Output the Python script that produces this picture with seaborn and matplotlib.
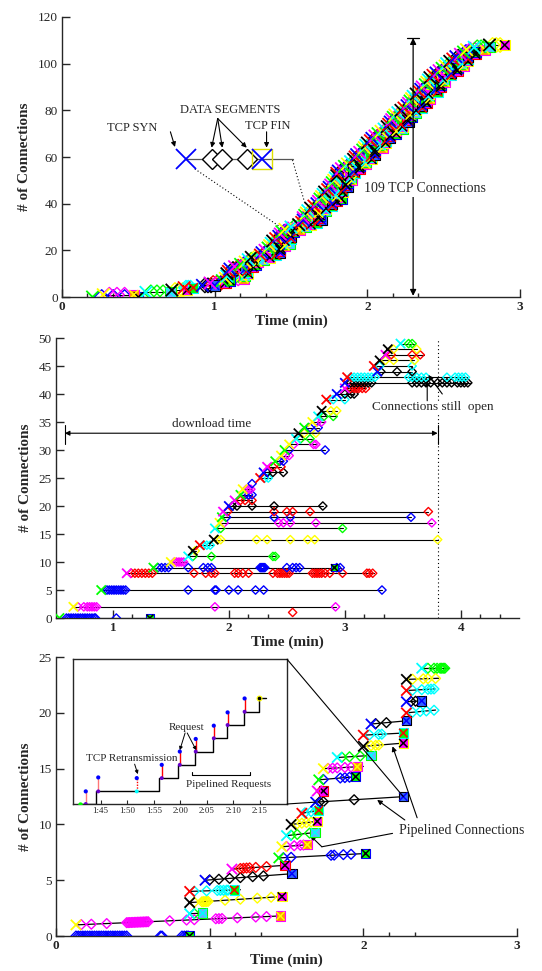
import matplotlib
matplotlib.use("Agg")
import matplotlib.pyplot as plt
from matplotlib.patches import ConnectionPatch
import numpy as np
import pandas as pd
import seaborn as sns

# ---------------- colours (connection colour pairs: SYN cross / data diamonds / FIN square)
G, B, Y, M, R, C, K = "#00ff00", "#0000ff", "#ffff00", "#ff00ff", "#ff0000", "#00ffff", "#000000"
X_COLS = [G, Y, C, K, R, B, M]
D_COLS = [B, M, G, Y, C, K, R]
SQ_COLS = [G, "#ff9900", "#66b3ff", M, G, "#3366ff", M]

# ---------------- panel 1 : 109 TCP connections (start time, duration in min)
p1_start = [0.20, 0.27, 0.55, 0.72, 0.80, 0.92, 0.97, 1.05, 1.07, 1.08,
            1.08, 1.09, 1.10, 1.13, 1.17, 1.20, 1.22, 1.24, 1.30, 1.31,
            1.33, 1.35, 1.36, 1.37, 1.38, 1.40, 1.42, 1.43, 1.44, 1.46,
            1.50, 1.55, 1.57, 1.58, 1.58, 1.59, 1.60, 1.61, 1.63, 1.65,
            1.67, 1.68, 1.69, 1.70, 1.71, 1.72, 1.74, 1.75, 1.76, 1.77,
            1.78, 1.79, 1.80, 1.80, 1.81, 1.83, 1.85, 1.87, 1.89, 1.91,
            1.92, 1.93, 1.95, 1.97, 1.98, 1.99, 2.00, 2.02, 2.03, 2.05,
            2.07, 2.09, 2.11, 2.13, 2.14, 2.15, 2.16, 2.17, 2.18, 2.20,
            2.22, 2.24, 2.26, 2.27, 2.28, 2.29, 2.30, 2.32, 2.34, 2.35,
            2.36, 2.38, 2.39, 2.40, 2.41, 2.43, 2.45, 2.47, 2.49, 2.51,
            2.52, 2.54, 2.56, 2.58, 2.61, 2.63, 2.65, 2.70, 2.80]
p1_dur = [0.30, 0.20, 0.16, 0.10, 0.06, 0.08, 0.10, 0.05, 0.12, 0.12,
          0.14, 0.12, 0.10, 0.12, 0.10, 0.08, 0.10, 0.12, 0.10, 0.12,
          0.10, 0.08, 0.10, 0.12, 0.08, 0.10, 0.08, 0.06, 0.08, 0.10,
          0.10, 0.08, 0.10, 0.12, 0.10, 0.10, 0.08, 0.12, 0.10, 0.12,
          0.10, 0.12, 0.14, 0.10, 0.08, 0.12, 0.10, 0.12, 0.10, 0.10,
          0.12, 0.10, 0.08, 0.12, 0.10, 0.12, 0.10, 0.12, 0.10, 0.12,
          0.10, 0.12, 0.10, 0.08, 0.12, 0.10, 0.12, 0.10, 0.12, 0.10,
          0.12, 0.10, 0.12, 0.10, 0.08, 0.12, 0.10, 0.12, 0.10, 0.12,
          0.10, 0.12, 0.10, 0.12, 0.10, 0.12, 0.10, 0.08, 0.12, 0.10,
          0.12, 0.10, 0.12, 0.10, 0.08, 0.12, 0.10, 0.12, 0.10, 0.12,
          0.10, 0.12, 0.10, 0.08, 0.10, 0.08, 0.12, 0.10, 0.10]
p1_seg_frac = [0.2, 0.45, 0.7]

# ---------------- panel 2 : connections of a slow page download
p2_rows = [0, 1, 2, 5, 8, 9, 10, 11, 12, 13, 14, 16, 17, 18, 19, 20, 21, 22, 23, 24, 25,
           26, 27, 28, 29, 30, 31, 32, 33, 34, 35, 36, 37, 39, 40, 41, 42, 43, 44, 45,
           46, 47, 48, 49]
p2_syn = [0.54, None, 0.66, 0.90, 1.12, 1.35, 1.50, 1.65, 1.69, 1.75, 1.87, 1.88, 1.92, 1.94,
          1.95, 2.00, 2.05, 2.10, 2.12, None, 2.27, 2.30, 2.33, 2.40, 2.45, 2.48, 2.52, 2.58,
          2.60, 2.65, 2.72, 2.77, 2.80, 2.84, 2.93, 3.00, 3.00, 3.02, 3.28, 3.25, 3.30, 3.35,
          3.37, 3.48]
p2_end = [1.32, None, 2.92, 3.32, 3.25, 2.97, 1.63, 2.40, 1.72, 1.86, 3.80, 2.98, 3.75, 3.57,
          3.72, 2.81, 2.20, 2.20, 2.19, None, 2.36, 2.47, 2.45, 2.47, 2.52, 2.83, 2.75, 2.72,
          2.75, 2.78, 2.82, 2.92, 2.93, 3.00, 3.08, 3.18, 4.08, 4.05, 3.58, 3.58, 3.60, 3.68,
          3.62, 3.60]
p2_segs = [
    [0.60, 0.62, 0.64, 0.66, 0.68, 0.70, 0.72, 0.74, 0.76, 0.78, 0.80, 0.82, 0.84, 0.85, 1.03],
    [2.55],
    [0.70, 0.75, 0.78, 0.80, 0.82, 0.84, 0.86, 1.88, 2.92],
    [0.95, 0.97, 0.99, 1.01, 1.03, 1.05, 1.07, 1.09, 1.11, 1.65, 1.88, 1.89, 2.00, 2.08, 2.23, 2.30, 3.32],
    [1.16, 1.19, 1.22, 1.25, 1.28, 1.31, 1.34, 1.70, 1.80, 1.85, 1.88, 2.05, 2.08, 2.12, 2.17, 2.38,
     2.42, 2.44, 2.46, 2.48, 2.50, 2.52, 2.72, 2.74, 2.76, 2.78, 2.80, 2.83, 2.87, 2.98, 3.19, 3.21, 3.24],
    [1.39, 1.42, 1.45, 1.48, 1.65, 1.78, 1.82, 1.85, 2.27, 2.28, 2.29, 2.30, 2.31, 2.50, 2.55, 2.58,
     2.61, 2.93, 2.96],
    [1.53, 1.55, 1.57, 1.59, 1.61],
    [1.69, 1.85, 2.38, 2.40],
    [1.71],
    [1.78, 1.81, 1.84],
    [1.90, 1.93, 2.24, 2.33, 2.53, 2.68, 2.74, 3.80],
    [1.93, 2.98],
    [1.96, 2.43, 2.47, 2.53, 2.75, 3.75],
    [1.98, 2.39, 2.53, 3.57],
    [1.99, 2.39, 2.50, 2.55, 2.70, 3.72],
    [2.03, 2.07, 2.20, 2.39, 2.81],
    [2.10, 2.14, 2.20],
    [2.14, 2.17, 2.20],
    [2.15, 2.17, 2.19],
    [2.20],
    [2.31, 2.34],
    [2.33, 2.38, 2.47],
    [2.38, 2.45],
    [2.44, 2.47],
    [2.49, 2.52],
    [2.52, 2.83],
    [2.56, 2.73, 2.75],
    [2.62, 2.70],
    [2.65, 2.75],
    [2.70, 2.77],
    [2.76, 2.80],
    [2.82, 2.90],
    [2.88, 2.93],
    [2.90, 3.00],
    [3.00, 3.05, 3.08],
    [3.05, 3.08, 3.10, 3.12, 3.15, 3.18],
    [3.05, 3.08, 3.11, 3.14, 3.17, 3.20, 3.23, 3.58, 3.62, 3.66, 3.70, 3.74, 3.80, 3.84, 3.88,
     3.92, 3.97, 4.00, 4.03, 4.06],
    [3.05, 3.08, 3.11, 3.14, 3.17, 3.20, 3.23, 3.26, 3.55, 3.58, 3.62, 3.66, 3.70, 3.88, 3.95,
     3.98, 4.01, 4.04],
    [3.31, 3.45, 3.58],
    [3.30, 3.58],
    [3.35, 3.42, 3.60],
    [3.40, 3.58, 3.65],
    [3.42, 3.62],
    [3.55, 3.58],
]
p2_pair = [0, 6, 1, 0, 6, 0, 1, 2, 3, 4, 3, 2, 1, 0, 6, 5, 6, 0, 1, 0, 4, 5, 6, 0, 1, 0, 1, 2,
           3, 0, 1, 2, 3, 4, 5, 6, 5, 4, 5, 4, 3, 6, 3, 2]
p2_fin = [1.32, None, None, None, None, 2.91] + [None] * 38
p2_download = [0.586, 3.80]

# ---------------- panel 3 : pipelined connections
p3_start = [0.13, 0.13, 0.87, 0.87, 0.87, 0.97, 1.145, 1.45, 1.47, 1.50, 1.53, 1.60, 1.69,
            1.70, 1.71, 1.74, 1.83, 2.00, 2.00, 2.05, 2.28, 2.28, 2.28, 2.28, 2.38]
p3_end = [0.88, 1.46, 0.95, 1.48, 1.20, 1.55, 1.50, 2.02, 1.65, 1.70, 1.71, 1.72, 2.27,
          1.75, 1.97, 2.00, 2.07, 2.27, 2.27, 2.29, 2.47, 2.41, 2.47, 2.49, 2.55]
p3_rise = [0.0, 0.8, 0.05, 0.55, 0.15, 0.6, 0.35, 0.4, 0.2, 0.3, 0.3, 0.3, 0.5,
           0.0, 0.3, 0.2, 0.2, 0.3, 0.2, 0.3, 0.25, 0.1, 0.15, 0.1, 0.0]
p3_syn = [False] + [True] * 24
p3_segs = [
    [0.13, 0.145, 0.16, 0.175, 0.19, 0.205, 0.22, 0.235, 0.25, 0.265, 0.28, 0.295, 0.31, 0.325,
     0.34, 0.355, 0.37, 0.385, 0.40, 0.415, 0.43, 0.445, 0.46, 0.68, 0.69, 0.82, 0.835, 0.85, 0.86],
    [0.165, 0.23, 0.33, 0.46, 0.47, 0.48, 0.49, 0.50, 0.51, 0.52, 0.53, 0.54, 0.55, 0.56, 0.57,
     0.58, 0.59, 0.60, 0.74, 0.85, 0.90, 1.04, 1.06, 1.08, 1.18, 1.30, 1.37],
    [0.90],
    [0.90, 0.95, 0.96, 0.97, 0.98, 0.99, 1.10, 1.20, 1.31, 1.40],
    [0.90, 0.98, 1.05, 1.07, 1.09, 1.11, 1.12],
    [1.00, 1.06, 1.13, 1.20, 1.28, 1.35],
    [1.20, 1.22, 1.24, 1.26, 1.30, 1.37],
    [1.48, 1.53, 1.79, 1.81, 1.87, 1.92],
    [1.50, 1.55, 1.59, 1.61],
    [1.53, 1.57, 1.65],
    [1.57, 1.60, 1.63, 1.66],
    [1.62, 1.66, 1.69],
    [1.715, 1.74, 1.94],
    [1.725],
    [1.74, 1.85, 1.88, 1.91],
    [1.77, 1.80, 1.83, 1.88, 1.92],
    [1.86, 1.91, 1.98],
    [2.05, 2.08, 2.10],
    [2.04, 2.10, 2.12],
    [2.08, 2.15],
    [2.32, 2.37, 2.41, 2.46],
    [2.31, 2.34],
    [2.32, 2.38, 2.42, 2.44, 2.46],
    [2.32, 2.39, 2.42, 2.47],
    [2.42, 2.46, 2.48, 2.50, 2.51, 2.52, 2.53],
]
p3_pair = [0, 1, 2, 3, 4, 5, 6, 0, 1, 2, 3, 4, 5, 6, 0, 1, 2, 3, 4, 5, 4, 5, 4, 3, 2]
p3_fin = [0.87, 1.46, 0.955, 1.47, 1.16, 1.535, 1.49, 2.015, 1.635, 1.685, 1.70, 1.71, 2.26,
          1.74, 1.95, 1.96, 2.05, 2.26, 2.26, 2.28, None, 2.38, None, None, None]

# ---------------- inset (zoom on connection 12 of panel 3), time in seconds
ins_step_t = [101.0, 104.1, 116.0, 119.6, 122.7, 126.2, 128.8, 131.9, 134.8, 136.1]
ins_step_y = [0.0, 0.95, 1.95, 2.95, 3.95, 4.95, 5.95, 6.95, 7.95, 7.95]
ins_stem_t = [102.2, 104.55, 111.8, 116.5, 119.9, 122.9, 126.3, 128.9, 132.1]
ins_stem_lo = [0.0, 0.95, 0.95, 1.95, 2.95, 3.95, 4.95, 5.95, 6.95]
ins_stem_hi = [0.95, 2.0, 1.95, 2.95, 3.95, 4.9, 5.9, 6.9, 7.95]
ins_stem_kind = ["light", "light", "retx", "req", "req", "req", "req", "req", "req"]
ins_ticks = [105, 110, 115, 120, 125, 130, 135]
ins_ticklabels = ["1:45", "1:50", "1:55", "2:00", "2:05", "2:10", "2:15"]

# ---------------- style
sns.set_theme(style="ticks")
plt.rcParams["font.family"] = ["Liberation Serif", "DejaVu Serif"]
plt.rcParams["axes.linewidth"] = 1.0

fig = plt.figure(figsize=(5.42, 9.71), dpi=100)
ax1 = fig.add_axes([0.1144, 0.6941, 0.845, 0.2884])
ax2 = fig.add_axes([0.1033, 0.3635, 0.854, 0.2884])
ax3 = fig.add_axes([0.1033, 0.0360, 0.8506, 0.2873])


def scatter(ax, t, y, cols, marker, s, lw, hollow=False, z=3, edge=None):
    if len(t) == 0:
        return
    df = pd.DataFrame({"t": t, "y": y, "c": cols})
    sns.scatterplot(data=df, x="t", y="y", hue="c", palette={c: c for c in set(cols)},
                    marker=marker, s=s, linewidth=lw, legend=False, ax=ax, zorder=z)
    coll = ax.collections[-1]
    if hollow:
        fc = coll.get_facecolors()
        coll.set_edgecolors(fc)
        coll.set_facecolors("none")
    elif edge is not None:
        coll.set_edgecolors(edge)


def draw_conns(ax, ys, starts, ends, segs, rises, pairs, syns, fins, sx, sd, ss, lwl):
    rows = []
    for i, (y0, a, b) in enumerate(zip(ys, starts, ends)):
        if a is None or b is None:
            continue
        rows.append((i, a, y0))
        rows.append((i, b, y0 + rises[i]))
    ldf = pd.DataFrame(rows, columns=["conn", "t", "y"])
    sns.lineplot(data=ldf, x="t", y="y", units="conn", estimator=None, sort=False,
                 color="black", lw=lwl, ax=ax, legend=False, zorder=2)

    def yat(i, t):
        a, b = starts[i], ends[i]
        if a is None or b is None or b == a:
            return ys[i]
        return ys[i] + rises[i] * (t - a) / (b - a)

    xt, xy, xc = [], [], []
    dt, dy, dc = [], [], []
    ft, fy, fc, fe, fx = [], [], [], [], []
    for i in range(len(ys)):
        p = pairs[i]
        if syns[i] and starts[i] is not None:
            xt.append(starts[i]); xy.append(ys[i]); xc.append(X_COLS[p])
        for s in segs[i]:
            dt.append(s); dy.append(yat(i, s)); dc.append(D_COLS[p])
        if fins[i] is not None:
            ft.append(fins[i]); fy.append(yat(i, fins[i])); fc.append(SQ_COLS[p]); fe.append(D_COLS[p])
            fx.append(X_COLS[p] if X_COLS[p] != SQ_COLS[p] else K)
    scatter(ax, dt, dy, dc, "D", sd, 1.0, hollow=True, z=3)
    scatter(ax, ft, fy, fc, "s", ss, 0.8, z=4, edge=fe)
    scatter(ax, ft, fy, fx, "x", ss * 0.8, 1.1, z=5)
    scatter(ax, xt, xy, xc, "x", sx, 1.3, z=5)


# ---------------- panel 1
n1 = len(p1_start)
p1_end = [a + d for a, d in zip(p1_start, p1_dur)]
p1_segs = [[a + f * d for f in p1_seg_frac] for a, d in zip(p1_start, p1_dur)]
draw_conns(ax1, list(range(n1)), p1_start, p1_end, p1_segs, [0.0] * n1,
           [i % 7 for i in range(n1)], [True] * n1, p1_end, 80, 55, 55, 0.8)
ax1.set_xlim(0, 3)
ax1.set_ylim(0, 120)
ax1.set_xticks([0, 1, 2, 3])
ax1.set_yticks(range(0, 121, 20))

# legend-like sample connection
ax1.plot([0.81, 1.51], [59, 59], color="#555555", lw=0.9, zorder=6)
ax1.plot([0.81], [59], marker="x", ms=14, mew=1.3, color=B, zorder=7, ls="none")
ax1.plot([0.98, 1.05, 1.21], [59, 59, 59], marker="D", ms=10, mew=1.0, mfc="white",
         mec="black", ls="none", zorder=7)
ax1.plot([1.31], [59], marker="s", ms=14, mew=1.0, mfc="none", mec="#e0e000", ls="none", zorder=7)
ax1.plot([1.31], [59], marker="x", ms=14, mew=1.3, color=B, ls="none", zorder=8)
ax1.text(0.46, 72.3, "TCP SYN", fontsize=9, ha="center", va="center")
ax1.text(1.10, 80.0, "DATA SEGMENTS", fontsize=9, ha="center", va="center")
ax1.text(1.35, 73.3, "TCP FIN", fontsize=9, ha="center", va="center")
ap = dict(arrowstyle="-|>", color="black", lw=0.8, mutation_scale=7, shrinkA=0, shrinkB=0)
ax1.annotate("", xy=(0.74, 64.3), xytext=(0.71, 70.8), arrowprops=ap)
for tx in [0.98, 1.05, 1.21]:
    ax1.annotate("", xy=(tx, 64.0), xytext=(1.02, 76.5), arrowprops=ap)
ax1.annotate("", xy=(1.34, 64.0), xytext=(1.34, 70.8), arrowprops=ap)
ax1.plot([0.87, 1.43], [54.9, 30.0], ls=(0, (1, 2)), color="black", lw=0.8)
ax1.plot([1.51, 1.59], [58.7, 40.3], ls=(0, (1, 2)), color="black", lw=0.8)
# 109 connections arrow
ax1.annotate("", xy=(2.30, 0.5), xytext=(2.30, 111), arrowprops=dict(
    arrowstyle="<|-|>", color="black", lw=0.9, mutation_scale=9, shrinkA=0, shrinkB=0), zorder=6)
ax1.plot([2.26, 2.34], [111, 111], color="black", lw=0.9)
ax1.text(2.38, 46.7, "109 TCP Connections", fontsize=10, ha="center", va="center",
         bbox=dict(facecolor="white", edgecolor="none", pad=2), zorder=7)

# ---------------- panel 2
n2 = len(p2_rows)
draw_conns(ax2, p2_rows, p2_syn, p2_end, p2_segs, [0.0] * n2, p2_pair,
           [s is not None for s in p2_syn], p2_fin, 45, 18, 30, 0.8)
ax2.set_xlim(0.51, 4.5)
ax2.set_ylim(0, 50)
ax2.set_xticks([1, 2, 3, 4])
ax2.set_yticks(range(0, 51, 5))
ax2.axvline(p2_download[1], ls=(0, (1, 2.5)), color="black", lw=0.8)
ax2.annotate("", xy=(p2_download[1], 33), xytext=(p2_download[0], 33), arrowprops=dict(
    arrowstyle="<|-|>", color="black", lw=0.8, mutation_scale=7, shrinkA=0, shrinkB=0))
ax2.plot([p2_download[0]] * 2, [31, 34.5], color="black", lw=0.8)
ax2.plot([p2_download[1]] * 2, [31, 34.5], color="black", lw=0.8)
ax2.text(1.85, 34.7, "download time", fontsize=9.5, ha="center", va="center")
ax2.text(3.23, 37.6, "Connections still  open", fontsize=9.5, ha="left", va="center",
         bbox=dict(facecolor="white", edgecolor="none", pad=0.5), zorder=6)
ax2.annotate("", xy=(3.71, 42.4), xytext=(3.71, 38.8), arrowprops=ap, zorder=7)
ax2.annotate("", xy=(3.72, 43.4), xytext=(3.84, 40.0), arrowprops=ap, zorder=7)

# ---------------- panel 3
n3 = len(p3_start)
draw_conns(ax3, list(range(n3)), p3_start, p3_end, p3_segs, p3_rise, p3_pair,
           p3_syn, p3_fin, 55, 25, 45, 0.9)
ax3.set_xlim(0, 3)
ax3.set_ylim(0, 25)
ax3.set_xticks([0, 1, 2, 3])
ax3.set_yticks(range(0, 26, 5))
ax3.text(2.23, 9.5, "Pipelined Connections", fontsize=10, ha="left", va="center")
ax3.annotate("", xy=(2.19, 17.0), xytext=(2.35, 10.6), arrowprops=ap)
ax3.annotate("", xy=(2.09, 12.2), xytext=(2.27, 10.4), arrowprops=ap)
ax3.plot([2.19, 1.73], [9.2, 8.0], color="black", lw=0.8)
ax3.annotate("", xy=(1.655, 9.0), xytext=(1.73, 8.0), arrowprops=ap)

for ax in (ax1, ax2, ax3):
    sns.despine(ax=ax)
    ax.set_xlabel("Time (min)", fontsize=11, fontweight="bold", labelpad=1)
    ax.set_ylabel("# of Connections", fontsize=11, fontweight="bold", labelpad=5)
    ax.tick_params(direction="in", length=6, width=1, labelsize=9.5, pad=3)
    for lab in ax.get_xticklabels():
        lab.set_fontweight("bold")
    xmin, xmax = ax.get_xlim()
    minors = [m + f for m in range(0, 5) for f in (1 / 6, 2 / 6) if xmin < m + f < xmax]
    ax.set_xticks(minors, minor=True)
    ax.tick_params(axis="x", which="minor", direction="in", length=3, width=1)
    ax.tick_params(axis="y", which="minor", length=0)

# ---------------- inset
axi = fig.add_axes([0.1347, 0.172, 0.395, 0.149])
sns.lineplot(x=ins_step_t, y=ins_step_y, drawstyle="steps-post", color="black", lw=1.0,
             ax=axi, estimator=None, sort=False, zorder=2)
for t, lo, hi, kd in zip(ins_stem_t, ins_stem_lo, ins_stem_hi, ins_stem_kind):
    col = "#ff7777" if kd == "light" else R
    ls = (0, (1, 1)) if kd == "retx" else "-"
    axi.plot([t, t], [lo, hi], color=col, lw=1.0, ls=ls, zorder=3)
bot_cols = ["#6600cc" if k != "retx" else C for k in ins_stem_kind]
scatter(axi, ins_stem_t, ins_stem_lo, bot_cols, "o", 8, 0, z=4)
scatter(axi, ins_stem_t, ins_stem_hi, [B] * len(ins_stem_t), "o", 9, 0, z=4)
scatter(axi, [101.1], [0.0], [G], "o", 10, 0, z=4)
scatter(axi, [ins_step_t[-2]], [ins_step_y[-2]], [K], "o", 12, 0.8, z=5, edge=Y)
axi.set_xlim(99.8, 140.1)
axi.set_ylim(0, 10.9)
axi.set_xticks(ins_ticks)
axi.set_xticklabels(ins_ticklabels)
axi.set_yticks([])
axi.set_xlabel("")
axi.set_ylabel("")
axi.tick_params(direction="in", length=3, width=0.8, labelsize=6.5, pad=2)
for sp in axi.spines.values():
    sp.set_linewidth(1.0)
    sp.set_visible(True)
axi.text(110.8, 3.45, "TCP Retransmission", fontsize=8, ha="center", va="center")
api = dict(arrowstyle="-|>", color="black", lw=0.7, mutation_scale=5, shrinkA=0, shrinkB=0)
axi.annotate("", xy=(112.0, 2.25), xytext=(111.4, 3.0), arrowprops=api)
axi.text(121.2, 5.8, "Request", fontsize=8, ha="center", va="center")
axi.annotate("", xy=(119.9, 4.05), xytext=(120.9, 5.35), arrowprops=api)
axi.annotate("", xy=(123.0, 4.05), xytext=(121.3, 5.35), arrowprops=api)
axi.plot([122.2, 133.2], [2.2, 2.2], color="black", lw=0.8)
axi.plot([122.2, 122.2], [2.2, 2.4], color="black", lw=0.8)
axi.plot([133.2, 133.2], [2.2, 2.4], color="black", lw=0.8)
axi.text(129.1, 1.45, "Pipelined Requests", fontsize=8, ha="center", va="center")

# connectors from inset to connection 12 of panel 3
for (cx, cy), (tx, ty) in [((1, 1), (p3_fin[12], 12 + p3_rise[12])), ((1, 0), (p3_start[12], 12))]:
    con = ConnectionPatch(xyA=(cx, cy), coordsA=axi.transAxes, xyB=(tx, ty),
                          coordsB=ax3.transData, color="black", lw=0.8)
    fig.add_artist(con)

fig.savefig("out.png", dpi=100)
